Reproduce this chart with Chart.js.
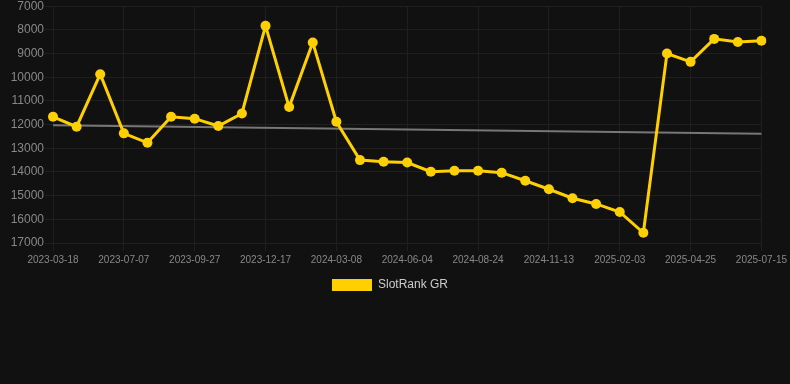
<!DOCTYPE html>
<html>
<head>
<meta charset="utf-8">
<script src="https://cdn.jsdelivr.net/npm/chart.js@4/dist/chart.umd.min.js"></script>
<style>
  html, body { margin: 0; padding: 0; background: #111111; overflow: hidden; }
  #wrap { position: relative; top: -2px; width: 790px; height: 303px; }
</style>
</head>
<body>
<div id="wrap"><canvas id="chart"></canvas></div>
<script>
const dates = [
    "2023-03-18", "2023-04-24", "2023-05-31", "2023-07-07", "2023-08-03", "2023-08-30",
    "2023-09-27", "2023-10-24", "2023-11-20", "2023-12-17", "2024-01-13", "2024-02-10",
    "2024-03-08", "2024-04-06", "2024-05-05", "2024-06-04", "2024-07-01", "2024-07-28",
    "2024-08-24", "2024-09-20", "2024-10-17", "2024-11-13", "2024-12-10", "2025-01-07",
    "2025-02-03", "2025-03-02", "2025-03-29", "2025-04-25", "2025-05-22", "2025-06-18",
    "2025-07-15"
];
const rankValues = [
    11670, 12090, 9870, 12370, 12770, 11670,
    11750, 12060, 11530, 7830, 11260, 8530,
    11880, 13500, 13570, 13600, 13990, 13950,
    13950, 14030, 14370, 14730, 15110, 15350,
    15690, 16570, 9000, 9350, 8380, 8510,
    8460
];
const trendStart = 12030;
const trendEnd = 12390;
const yTicks = [7000, 8000, 9000, 10000, 11000, 12000, 13000, 14000, 15000, 16000, 17000];

const trendData = dates.map((d, i) => (i === 0 ? trendStart : i === dates.length - 1 ? trendEnd : null));
const FONT = "Arial, 'Liberation Sans', sans-serif";
const GRID = "#1f1f1f";

const canvas = document.getElementById("chart");
new Chart(canvas, {
    type: "line",
    data: {
        labels: dates,
        datasets: [
            {
                label: "SlotRank GR",
                data: rankValues,
                borderColor: "#FFD000",
                backgroundColor: "#FFD000",
                borderWidth: 3,
                pointRadius: 5,
                pointHoverRadius: 5,
                pointBackgroundColor: "#FFD000",
                pointBorderWidth: 0,
                tension: 0
            },
            {
                label: "trend",
                data: trendData,
                borderColor: "#777777",
                borderWidth: 2,
                pointRadius: 0,
                spanGaps: true,
                tension: 0
            }
        ]
    },
    options: {
        responsive: true,
        maintainAspectRatio: false,
        animation: false,
        layout: { padding: { right: 10 } },
        plugins: {
            legend: {
                position: "bottom",
                labels: {
                    color: "#cccccc",
                    font: { family: FONT, size: 12 },
                    boxWidth: 40,
                    boxHeight: 12,
                    filter: item => item.datasetIndex === 0,
                    generateLabels: chart =>
                        Chart.defaults.plugins.legend.labels.generateLabels(chart).map(item => ({ ...item, lineWidth: 0 }))
                }
            },
            tooltip: { enabled: false }
        },
        scales: {
            x: {
                grid: {
                    color: ctx => (ctx.index % 3 === 0 ? GRID : "transparent")
                },
                border: { color: GRID },
                ticks: {
                    color: "#888888",
                    font: { family: FONT, size: 10 },
                    autoSkip: false,
                    maxRotation: 0,
                    callback: function (value, index) {
                        return index % 3 === 0 ? this.getLabelForValue(value) : "";
                    }
                }
            },
            y: {
                reverse: true,
                min: 7000,
                max: 17000,
                afterBuildTicks: axis => { axis.ticks = yTicks.map(v => ({ value: v })); },
                afterFit: axis => { axis.width = 53; },
                grid: { color: GRID },
                border: { color: GRID },
                ticks: {
                    color: "#888888",
                    padding: 1,
                    font: { family: FONT, size: 12 },
                    callback: value => String(value)
                }
            }
        }
    }
});
</script>
</body>
</html>
